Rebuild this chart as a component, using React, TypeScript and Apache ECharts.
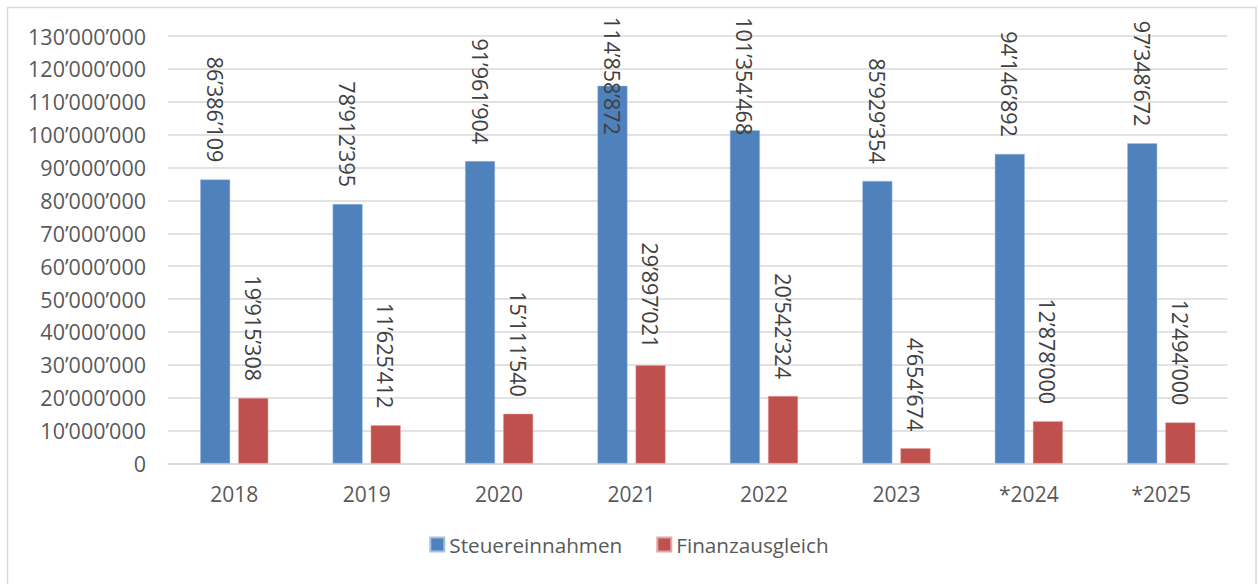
import React, { useEffect, useRef } from "react";
import * as echarts from "echarts";

const categories = ["2018", "2019", "2020", "2021", "2022", "2023", "*2024", "*2025"];
const steuereinnahmen = [86386109, 78912395, 91961904, 114858872, 101354468, 85929354, 94146892, 97348672];
const finanzausgleich = [19915308, 11625412, 15111540, 29897021, 20542324, 4654674, 12878000, 12494000];
const seriesNames = ["Steuereinnahmen", "Finanzausgleich"];

const fmt = (v: number) => {
  const s = Math.round(v).toString();
  return s.replace(/\B(?=(\d{3})+(?!\d))/g, "\u2019");
};

const FONT = "'Open Sans', 'Noto Sans', sans-serif";

export default function App() {
  const ref = useRef<HTMLDivElement>(null);
  useEffect(() => {
    if (!ref.current) return;
    const chart = echarts.init(ref.current, undefined, { renderer: "svg" });
    const baseLabel = {
      show: true,
      position: "top",
      rotate: -90,
      align: "right",
      verticalAlign: "middle",
      distance: 17,
      fontSize: 21.5,
      fontFamily: FONT,
      color: "#404040",
      formatter: (p: any) => fmt(p.value),
    };
    // Labels clamped at chart top for the tallest bars
    const clampDist: Record<number, number> = { 3: 49, 4: 5 };
    const blueData = steuereinnahmen.map((v, i) =>
      clampDist[i] !== undefined
        ? { value: v, label: { position: "insideTop", distance: clampDist[i] } }
        : v
    );
    chart.setOption({
      animation: false,
      textStyle: { fontFamily: FONT },
      graphic: [
        {
          type: "rect",
          shape: { x: 7.5, y: 7.5, width: 1248.5, height: 590 },
          style: { fill: "none", stroke: "#d9d9d9", lineWidth: 1.5 },
          silent: true,
        },
      ],
      grid: { left: 168, top: 36, width: 1059.5, height: 427.5, containLabel: false },
      legend: {
        bottom: 24,
        left: "center",
        icon: "rect",
        itemWidth: 14,
        itemHeight: 14,
        itemGap: 34,
        textStyle: { fontSize: 20.7, color: "#595959", fontFamily: FONT, padding: [0, 0, 0, 0] },
        data: seriesNames,
      },
      xAxis: {
        type: "category",
        data: categories,
        axisTick: { show: false },
        axisLine: { lineStyle: { color: "#d9d9d9", width: 1.5 } },
        axisLabel: { fontSize: 21, color: "#595959", margin: 20, fontFamily: FONT },
      },
      yAxis: {
        type: "value",
        min: 0,
        max: 130000000,
        interval: 10000000,
        axisLine: { show: false },
        axisTick: { show: false },
        splitLine: { lineStyle: { color: "#d9d9d9", width: 1.5 } },
        axisLabel: {
          fontSize: 21.5,
          color: "#595959",
          margin: 22,
          fontFamily: FONT,
          formatter: (v: number) => fmt(v),
        },
      },
      series: [
        {
          name: seriesNames[0],
          type: "bar",
          data: blueData,
          barWidth: 30,
          barGap: "27%",
          itemStyle: { color: "#4F81BD", borderColor: "#a7c0de", borderWidth: 0.5 },
          label: baseLabel,
        },
        {
          name: seriesNames[1],
          type: "bar",
          data: finanzausgleich,
          barWidth: 30,
          itemStyle: { color: "#C0504D", borderColor: "#e0a8a6", borderWidth: 0.5 },
          label: baseLabel,
        },
      ],
    });
    return () => chart.dispose();
  }, []);
  return (
    <div style={{ position: "fixed", left: 0, top: 0, width: 1258, height: 584, background: "#fff" }}>
      <div ref={ref} style={{ width: 1258, height: 584 }} />
    </div>
  );
}
